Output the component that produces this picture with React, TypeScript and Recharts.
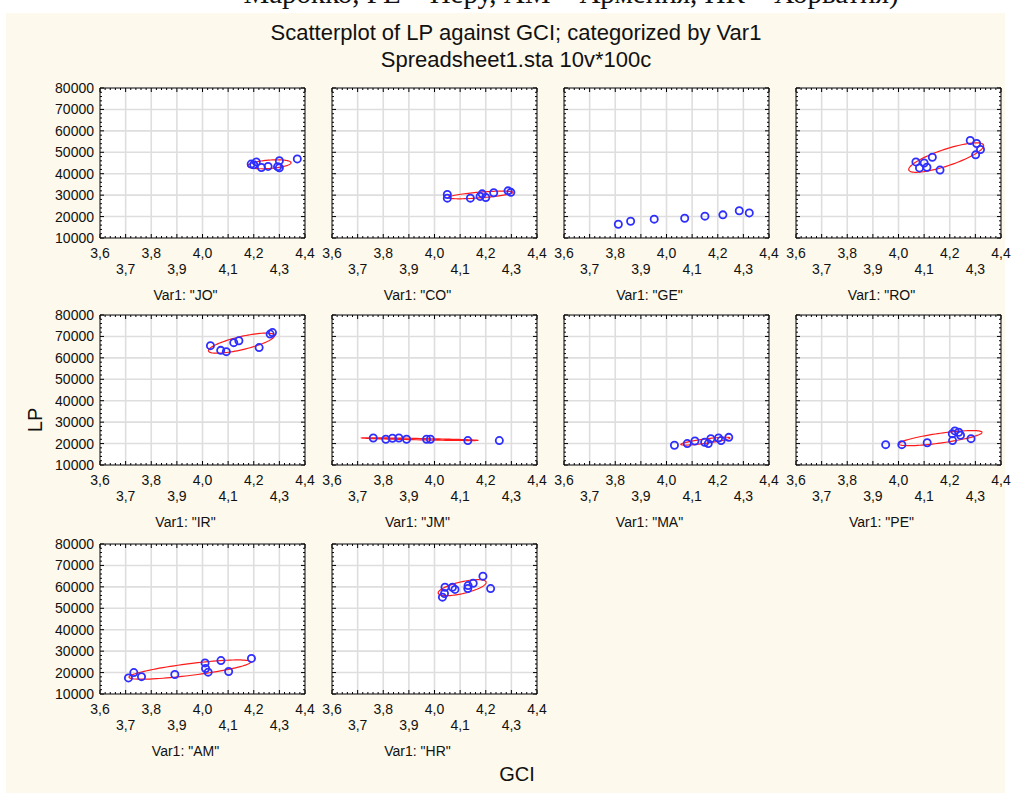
import React from "react";
import {
  ScatterChart,
  Scatter,
  XAxis,
  YAxis,
  CartesianGrid,
  ReferenceArea,
} from "recharts";

// Values (GCI on x, LP on y), one pair of arrays per category
const CATEGORIES = ["JO", "CO", "GE", "RO", "IR", "JM", "MA", "PE", "AM", "HR"];

const GCI_JO = [4.19, 4.21, 4.2, 4.23, 4.256, 4.3, 4.293, 4.3, 4.37];
const LP_JO = [44500, 45500, 44200, 42900, 43400, 46100, 43300, 42800, 46900];

const GCI_CO = [4.05, 4.05, 4.14, 4.186, 4.2, 4.178, 4.231, 4.287, 4.298];
const LP_CO = [30300, 28600, 28600, 30600, 28900, 29400, 31100, 32000, 31300];

const GCI_GE = [3.812, 3.86, 3.952, 4.071, 4.15, 4.22, 4.284, 4.323];
const LP_GE = [16400, 17800, 18800, 19200, 20200, 20800, 22700, 21700];

const GCI_RO = [4.068, 4.1, 4.082, 4.111, 4.132, 4.162, 4.28, 4.305, 4.32, 4.301];
const LP_RO = [45500, 45000, 42700, 43000, 47700, 41700, 55500, 54100, 51300, 48800];

const GCI_IR = [4.031, 4.071, 4.093, 4.122, 4.142, 4.221, 4.264, 4.273];
const LP_IR = [65700, 63500, 62900, 67100, 68000, 64800, 71100, 71800];

const GCI_JM = [3.761, 3.81, 3.836, 3.861, 3.891, 3.969, 3.984, 4.13, 4.253];
const LP_JM = [22600, 22000, 22500, 22600, 22000, 22000, 22000, 21400, 21400];

const GCI_MA = [4.031, 4.081, 4.111, 4.149, 4.163, 4.173, 4.203, 4.213, 4.243];
const LP_MA = [19200, 20000, 21200, 20600, 20000, 22300, 22600, 21400, 22900];

const GCI_PE = [3.95, 4.013, 4.112, 4.21, 4.22, 4.235, 4.242, 4.211, 4.283];
const LP_PE = [19500, 19500, 20400, 24600, 25900, 25300, 23900, 21400, 22300];

const GCI_AM = [3.711, 3.732, 3.762, 3.892, 4.01, 4.012, 4.022, 4.072, 4.102, 4.191];
const LP_AM = [17500, 20000, 18100, 19100, 24500, 21900, 20200, 25600, 20500, 26600];

const GCI_HR = [4.031, 4.039, 4.041, 4.07, 4.08, 4.13, 4.131, 4.151, 4.189, 4.219];
const LP_HR = [55200, 56900, 59800, 59800, 58800, 59200, 60600, 61700, 65000, 59200];

const X_TICKS = [3.6, 3.7, 3.8, 3.9, 4.0, 4.1, 4.2, 4.3, 4.4];
const Y_TICKS = [10000, 20000, 30000, 40000, 50000, 60000, 70000, 80000];

const TOP_NOTE = "Марокко, PE – Перу, AM – Армения, HR – Хорватия)";
const TITLE = "Scatterplot of LP against GCI; categorized by Var1";
const SUBTITLE = "Spreadsheet1.sta 10v*100c";

const PANELS = [
  { cat: CATEGORIES[0], gci: GCI_JO, lp: LP_JO, ellipse: true },
  { cat: CATEGORIES[1], gci: GCI_CO, lp: LP_CO, ellipse: true },
  { cat: CATEGORIES[2], gci: GCI_GE, lp: LP_GE, ellipse: false },
  { cat: CATEGORIES[3], gci: GCI_RO, lp: LP_RO, ellipse: true },
  { cat: CATEGORIES[4], gci: GCI_IR, lp: LP_IR, ellipse: true },
  { cat: CATEGORIES[5], gci: GCI_JM, lp: LP_JM, ellipse: true },
  { cat: CATEGORIES[6], gci: GCI_MA, lp: LP_MA, ellipse: true },
  { cat: CATEGORIES[7], gci: GCI_PE, lp: LP_PE, ellipse: true },
  { cat: CATEGORIES[8], gci: GCI_AM, lp: LP_AM, ellipse: true },
  { cat: CATEGORIES[9], gci: GCI_HR, lp: LP_HR, ellipse: true },
];

// layout
const COL_X = [100, 332, 564, 796];
const ROW_Y = [88, 315, 544];
const PW = 205;
const PH = 150;
const ML = 70;
const MT = 14;
const MR = 25;
const MB = 60;
const FONT = '"Liberation Sans", Arial, sans-serif';

// 5 sub-intervals per major step for the small ticks on the frame
const subdivide = (ticks: number[]) =>
  ticks
    .slice(0, -1)
    .flatMap((t, i) =>
      [0, 1, 2, 3, 4].map((k) => +(t + (k * (ticks[i + 1] - t)) / 5).toFixed(4))
    )
    .concat(ticks[ticks.length - 1]);

const X_MINOR = subdivide(X_TICKS);
const Y_MINOR = subdivide(Y_TICKS);
const X_STEP = X_TICKS[1] - X_TICKS[0];
const Y_STEP = Y_TICKS[1] - Y_TICKS[0];

// ellipse from the points' means, sds and correlation
function ellipseOf(xs: number[], ys: number[], k = 1.42, n = 96) {
  const m = xs.length;
  const mx = xs.reduce((a, b) => a + b, 0) / m;
  const my = ys.reduce((a, b) => a + b, 0) / m;
  let sxx = 0,
    syy = 0,
    sxy = 0;
  for (let i = 0; i < m; i++) {
    sxx += (xs[i] - mx) ** 2;
    syy += (ys[i] - my) ** 2;
    sxy += (xs[i] - mx) * (ys[i] - my);
  }
  const sx = Math.sqrt(sxx / (m - 1));
  const sy = Math.sqrt(syy / (m - 1));
  const r = sxy / Math.sqrt(sxx * syy);
  const out: { x: number; y: number }[] = [];
  for (let i = 0; i <= n; i++) {
    const t = (2 * Math.PI * i) / n;
    out.push({
      x: mx + k * sx * Math.cos(t),
      y: my + k * sy * (r * Math.cos(t) + Math.sqrt(1 - r * r) * Math.sin(t)),
    });
  }
  return out;
}

const isMajor = (v: number, step: number) => {
  const q = v / step;
  return Math.abs(q - Math.round(q)) < 1e-6;
};

const XTick = (props: any) => {
  const { x, y, payload } = props;
  const v = payload.value as number;
  const major = isMajor(v, X_STEP);
  const len = major ? 4 : 2;
  const row = Math.round(v / X_STEP) % 2;
  return (
    <g>
      <line x1={x} x2={x} y1={y} y2={y - len} stroke="#000" />
      <line x1={x} x2={x} y1={y - PH} y2={y - PH + len} stroke="#000" />
      {major && (
        <text
          x={x}
          y={y + (row ? 36 : 20)}
          textAnchor="middle"
          fontSize={14}
          fontFamily={FONT}
          fill="#111"
        >
          {v.toFixed(1).replace(".", ",")}
        </text>
      )}
    </g>
  );
};

const makeYTick = (showLabel: boolean) => (props: any) => {
  const { x, y, payload } = props;
  const v = payload.value as number;
  const major = isMajor(v, Y_STEP);
  const len = major ? 4 : 2;
  return (
    <g>
      <line x1={x} x2={x + len} y1={y} y2={y} stroke="#000" />
      <line x1={x + PW} x2={x + PW - len} y1={y} y2={y} stroke="#000" />
      {showLabel && major && (
        <text
          x={x - 6}
          y={y + 5}
          textAnchor="end"
          fontSize={14}
          fontFamily={FONT}
          fill="#111"
        >
          {v}
        </text>
      )}
    </g>
  );
};

const Dot = (props: any) => (
  <circle
    cx={props.cx}
    cy={props.cy}
    r={3.6}
    fill="none"
    stroke="#2e2eff"
    strokeWidth={1.8}
  />
);

const NoDot = () => <g />;

function Panel({ idx }: { idx: number }) {
  const p = PANELS[idx];
  const col = idx % 4;
  const row = Math.floor(idx / 4);
  const px = COL_X[col];
  const py = ROW_Y[row];
  const points = p.gci.map((g, i) => ({ x: g, y: p.lp[i] }));
  const ell = p.ellipse ? ellipseOf(p.gci, p.lp) : [];
  return (
    <>
      <div style={{ position: "absolute", left: px - ML, top: py - MT }}>
        <ScatterChart
          width={ML + PW + MR}
          height={MT + PH + MB}
          margin={{ top: MT, right: MR, bottom: 0, left: 0 }}
        >
          <CartesianGrid
            fill="#ffffff"
            stroke="#dedede"
            strokeWidth={1.6}
            horizontalValues={Y_TICKS}
            verticalValues={X_TICKS}
          />
          <XAxis
            type="number"
            dataKey="x"
            domain={[X_TICKS[0], X_TICKS[X_TICKS.length - 1]]}
            allowDataOverflow
            ticks={X_MINOR}
            interval={0}
            height={MB}
            tickSize={0}
            tickMargin={0}
            axisLine={false}
            tickLine={false}
            tick={XTick}
          />
          <YAxis
            type="number"
            dataKey="y"
            domain={[Y_TICKS[0], Y_TICKS[Y_TICKS.length - 1]]}
            allowDataOverflow
            ticks={Y_MINOR}
            interval={0}
            width={ML}
            tickSize={0}
            tickMargin={0}
            axisLine={false}
            tickLine={false}
            tick={makeYTick(col === 0)}
          />
          {p.ellipse && (
            <Scatter
              data={ell}
              shape={NoDot}
              line={{ stroke: "#ff1a1a", strokeWidth: 1.2 }}
              lineType="joint"
              isAnimationActive={false}
            />
          )}
          <Scatter data={points} shape={Dot} isAnimationActive={false} />
          <ReferenceArea
            x1={X_TICKS[0]}
            x2={X_TICKS[X_TICKS.length - 1]}
            y1={Y_TICKS[0]}
            y2={Y_TICKS[Y_TICKS.length - 1]}
            fill="none"
            fillOpacity={0}
            stroke="#1a1a1a"
            strokeWidth={1}
          />
        </ScatterChart>
      </div>
      <div
        style={{
          position: "absolute",
          left: px + PW / 2 - 17 - 100,
          width: 200,
          top: py + PH + 49,
          textAlign: "center",
          fontFamily: FONT,
          fontSize: 14,
          color: "#111",
          lineHeight: "16px",
        }}
      >
        {`Var1: "${p.cat}"`}
      </div>
    </>
  );
}

export default function App() {
  return (
    <div
      style={{
        position: "absolute",
        left: 0,
        top: 0,
        width: 1014,
        height: 793,
        overflow: "hidden",
        background: "#ffffff",
      }}
    >
      <svg
        width={1014}
        height={793}
        style={{ position: "absolute", left: 0, top: 0 }}
      >
        <text
          x={571}
          y={3}
          textAnchor="middle"
          fontSize={29}
          fontFamily='"Liberation Serif", "Times New Roman", serif'
          fill="#111"
        >
          {TOP_NOTE}
        </text>
        <rect x={6} y={13} width={999} height={790} fill="#fdf9ec" />
        <text
          x={516}
          y={40}
          textAnchor="middle"
          fontSize={22}
          fontFamily={FONT}
          fill="#111"
        >
          {TITLE}
        </text>
        <text
          x={516}
          y={67}
          textAnchor="middle"
          fontSize={22}
          fontFamily={FONT}
          fill="#111"
        >
          {SUBTITLE}
        </text>
        <text
          x={0}
          y={0}
          transform="translate(42 420) rotate(-90)"
          textAnchor="middle"
          fontSize={20}
          fontFamily={FONT}
          fill="#111"
        >
          LP
        </text>
        <text
          x={517}
          y={781}
          textAnchor="middle"
          fontSize={20}
          fontFamily={FONT}
          fill="#111"
        >
          GCI
        </text>
      </svg>
      {PANELS.map((_, i) => (
        <Panel key={i} idx={i} />
      ))}
    </div>
  );
}
